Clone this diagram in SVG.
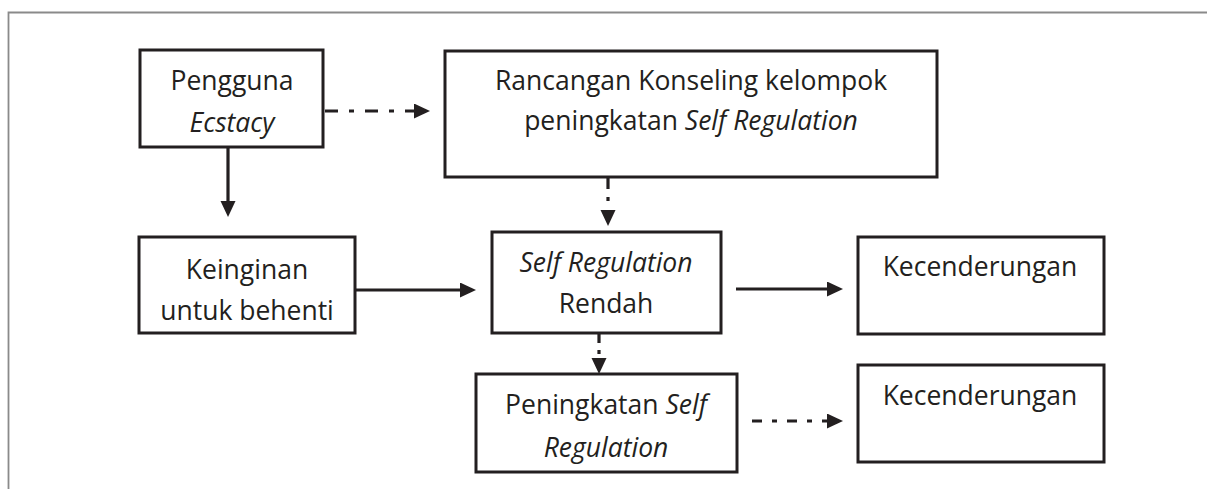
<svg xmlns="http://www.w3.org/2000/svg" width="1207" height="489" viewBox="0 0 1207 489">
<style>
.box{fill:#fff;stroke:#231f20;stroke-width:3}
.t{font-family:"Open Sans","Liberation Sans",sans-serif;font-size:26.5px;fill:#231f20;text-anchor:middle}
.i{font-style:italic}
.c{fill:none;stroke:#231f20;stroke-width:3.2}
</style>
<defs>
<marker id="ah" markerUnits="userSpaceOnUse" markerWidth="17" markerHeight="16" refX="0" refY="7.5" orient="auto">
<path d="M0,0 L16,7.5 L0,15 z" fill="#231f20"/>
</marker>
</defs>
<rect width="1207" height="489" fill="#fff"/>
<path d="M8.5,489 V12.5 H1207" fill="none" stroke="#8a8a8a" stroke-width="1.8"/>
<g id="connectors">
<path class="c" d="M228,147 V201" marker-end="url(#ah)"/>
<path class="c" d="M325,111 H414" stroke-dasharray="13 11 5 11" marker-end="url(#ah)"/>
<path class="c" d="M608,178 V210" stroke-dasharray="11 8 4 40" marker-end="url(#ah)"/>
<path class="c" d="M355,290 H460" marker-end="url(#ah)"/>
<path class="c" d="M736,289 H827" marker-end="url(#ah)"/>
<path class="c" d="M599,334 V358" stroke-dasharray="9 7 4 30" marker-end="url(#ah)"/>
<path class="c" d="M752,421 H827" stroke-dasharray="10 10 5 10" marker-end="url(#ah)"/>
</g>
<g id="n-pengguna">
<rect class="box" x="140" y="50" width="183" height="97"/>
<text class="t" x="232" y="90">Pengguna</text>
<text class="t i" x="232" y="132">Ecstacy</text>
</g>
<g id="n-rancangan">
<rect class="box" x="445" y="51" width="492" height="126"/>
<text class="t" x="691" y="90">Rancangan Konseling kelompok</text>
<text class="t" x="691" y="130">peningkatan <tspan class="i">Self Regulation</tspan></text>
</g>
<g id="n-keinginan">
<rect class="box" x="139" y="237" width="216" height="96"/>
<text class="t" x="247" y="279">Keinginan</text>
<text class="t" x="247" y="320">untuk behenti</text>
</g>
<g id="n-selfreg">
<rect class="box" x="492" y="232" width="229" height="101"/>
<text class="t i" x="606" y="272">Self Regulation</text>
<text class="t" x="606" y="313">Rendah</text>
</g>
<g id="n-kec1">
<rect class="box" x="858" y="237" width="246" height="97"/>
<text class="t" x="980" y="276">Kecenderungan</text>
</g>
<g id="n-peningkatan">
<rect class="box" x="476" y="374" width="261" height="98"/>
<text class="t" x="606" y="414">Peningkatan <tspan class="i">Self</tspan></text>
<text class="t i" x="606" y="457">Regulation</text>
</g>
<g id="n-kec2">
<rect class="box" x="858" y="365" width="246" height="97"/>
<text class="t" x="980" y="405">Kecenderungan</text>
</g>
</svg>
